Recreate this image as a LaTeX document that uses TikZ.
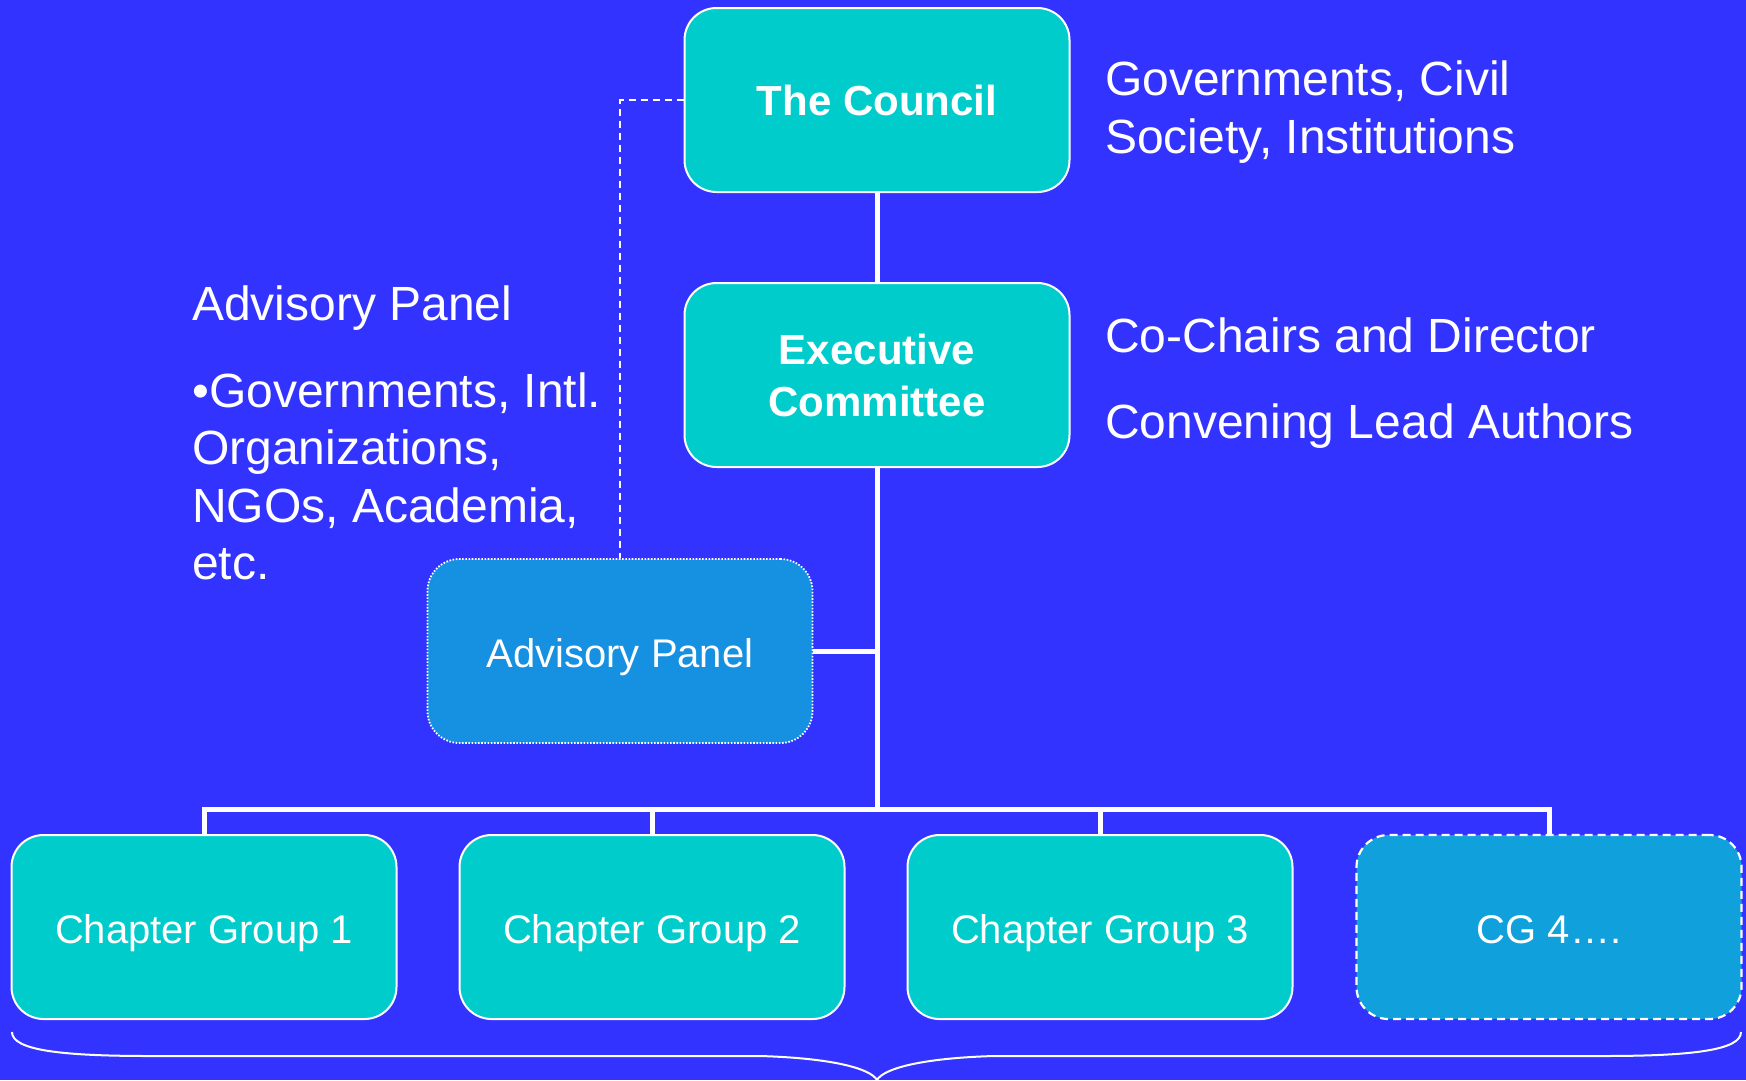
\documentclass[tikz,border=0pt]{standalone}
\usepackage{fontspec}
\setmainfont{Liberation Sans}
\usetikzlibrary{backgrounds}
\definecolor{bgblue}{HTML}{3333FF}
\definecolor{tealbox}{HTML}{00CCCC}
\definecolor{apblue}{HTML}{1690E0}
\definecolor{cgblue}{HTML}{10A0DC}
\begin{document}
\begin{tikzpicture}[x=1pt,y=-1pt,
  box/.style={draw=white, line width=2pt, rounded corners=32pt,
    minimum width=385pt, minimum height=184pt, inner sep=0pt,
    text=white, align=center},
  boldtxt/.style={font=\bfseries\fontsize{42}{52}\selectfont},
  plaintxt/.style={font=\fontsize{40}{48}\selectfont, text height=32pt, text depth=0pt},
  sidetxt/.style={anchor=base west, inner sep=0pt, text=white,
    font=\fontsize{48}{58}\selectfont},
  conn/.style={draw=white, line width=5pt},
  dashconn/.style={draw=white, line width=2pt, dash pattern=on 7pt off 5pt},
  bracestyle/.style={draw=white, line width=2pt}]
\useasboundingbox (0,0) rectangle (1746,1080);

% boxes
\node[box, boldtxt, fill=tealbox] (council) at (877,100) {The Council};
\node[box, boldtxt, fill=tealbox] (exec) at (877,375) {Executive\\Committee};
\node[box, plaintxt, fill=apblue, line width=1.8pt, dash pattern=on 1.6pt off 1.6pt] (ap) at (620,651) {Advisory Panel};
\node[box, plaintxt, fill=tealbox] (cg1) at (204,927) {Chapter Group 1};
\node[box, plaintxt, fill=tealbox] (cg2) at (652,927) {Chapter Group 2};
\node[box, plaintxt, fill=tealbox] (cg3) at (1100,927) {Chapter Group 3};
\node[box, plaintxt, fill=cgblue, line width=2.2pt, dash pattern=on 8pt off 5pt] (cg4) at (1549,927) {CG 4\dots.};

% side texts
\node[sidetxt] (rt1) at (1105,95) {Governments, Civil};
\node[sidetxt] (rt2) at (1105,153) {Society, Institutions};
\node[sidetxt] (rt3) at (1105,352) {Co-Chairs and Director};
\node[sidetxt] (rt4) at (1105,438) {Convening Lead Authors};
\node[sidetxt] (lt0) at (192,320) {Advisory Panel};
\node[sidetxt] (lt1) at (192,407) {\textbullet Governments, Intl.};
\node[sidetxt] (lt2) at (192,464) {Organizations,};
\node[sidetxt] (lt3) at (192,522) {NGOs, Academia,};
\node[sidetxt] (lt4) at (192,579) {etc.};

\coordinate (busy) at (0,809);
\coordinate (tip) at (877,1080);

\begin{scope}[on background layer]
  \fill[bgblue] (0,0) rectangle (1746,1080);
  \draw[conn] (council.south) -- (exec.north);
  \draw[conn] (exec.south) -- (exec.south |- busy);
  \draw[conn] (ap.east) -- (ap.east -| exec.south);
  \draw[conn] (cg1.north) -- (cg1.north |- busy) -- (cg4.north |- busy) -- (cg4.north);
  \draw[conn] (cg2.north) -- (cg2.north |- busy);
  \draw[conn] (cg3.north) -- (cg3.north |- busy);
  \draw[dashconn] (council.west) -- (council.west -| ap.north) -- (ap.north);
\end{scope}

% brace
\draw[bracestyle] (12,1032) .. controls (12,1050) and (60,1056) .. (150,1056)
  -- (760,1056) .. controls (830,1058) and (870,1068) .. (tip);
\draw[bracestyle] (1741,1032) .. controls (1741,1050) and (1693,1056) .. (1603,1056)
  -- (994,1056) .. controls (924,1058) and (884,1068) .. (tip);
\end{tikzpicture}
\end{document}
